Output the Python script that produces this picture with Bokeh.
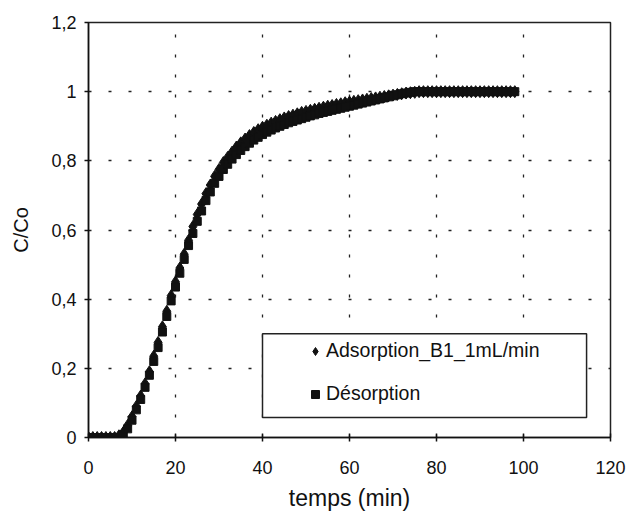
from bokeh.plotting import figure
from bokeh.models import (FixedTicker, Range1d, Legend, LegendItem, BoxAnnotation)
from bokeh.embed import file_html
from bokeh.resources import INLINE

# ---- data ----
temps = list(range(0, 99))

adsorption = [
    0, 0, 0, 0, 0, 0, 0, 0.005, 0.015, 0.035,
    0.06, 0.09, 0.12, 0.155, 0.19, 0.235, 0.275, 0.32, 0.365, 0.41,
    0.45, 0.49, 0.53, 0.57, 0.61, 0.645, 0.675, 0.705, 0.73, 0.755,
    0.775, 0.795, 0.81, 0.825, 0.84, 0.852, 0.863, 0.873, 0.882, 0.89,
    0.897, 0.903, 0.909, 0.914, 0.919, 0.924, 0.928, 0.932, 0.936, 0.94,
    0.943, 0.946, 0.949, 0.952, 0.955, 0.958, 0.96, 0.963, 0.965, 0.968,
    0.97, 0.972, 0.974, 0.976, 0.978, 0.98, 0.982, 0.984, 0.986, 0.988,
    0.99, 0.992, 0.994, 0.996, 0.997, 0.998, 1.0, 1.0, 1.0, 1.0,
    1.0, 1.0, 1.0, 1.0, 1.0, 1.0, 1.0, 1.0, 1.0, 1.0,
    1.0, 1.0, 1.0, 1.0, 1.0, 1.0, 1.0, 1.0, 1.0,
]

desorption = [
    0, 0, 0, 0, 0, 0, 0, 0, 0.005, 0.025,
    0.05, 0.08, 0.11, 0.145, 0.18, 0.22, 0.26, 0.305, 0.35, 0.395,
    0.435, 0.475, 0.515, 0.555, 0.59, 0.625, 0.655, 0.685, 0.71, 0.735,
    0.755, 0.775, 0.79, 0.805, 0.818, 0.83, 0.841, 0.851, 0.86, 0.868,
    0.876, 0.883, 0.889, 0.895, 0.9, 0.905, 0.91, 0.914, 0.918, 0.922,
    0.926, 0.93, 0.933, 0.937, 0.94, 0.943, 0.946, 0.949, 0.952, 0.955,
    0.958, 0.961, 0.964, 0.967, 0.97, 0.973, 0.976, 0.979, 0.982, 0.985,
    0.988, 0.991, 0.994, 0.996, 0.998, 1.0, 1.0, 1.0, 1.0, 1.0,
    1.0, 1.0, 1.0, 1.0, 1.0, 1.0, 1.0, 1.0, 1.0, 1.0,
    1.0, 1.0, 1.0, 1.0, 1.0, 1.0, 1.0, 1.0, 1.0,
]

x_ticks = [0, 20, 40, 60, 80, 100, 120]
y_ticks = [0, 0.2, 0.4, 0.6, 0.8, 1.0, 1.2]
y_tick_labels = ["0", "0,2", "0,4", "0,6", "0,8", "1", "1,2"]

series_names = ["Adsorption_B1_1mL/min", "Désorption"]

FONT = "Liberation Sans"

p = figure(width=629, height=518, output_backend="svg", toolbar_location=None,
           x_range=Range1d(0, 120), y_range=Range1d(0, 1.2),
           min_border_left=88, min_border_right=19, min_border_top=22, min_border_bottom=81)
p.background_fill_color = "white"
p.border_fill_color = "white"
p.outline_line_color = "#222222"
p.outline_line_width = 1.5

# grid
for g in (p.xgrid, p.ygrid):
    g.grid_line_color = "#222222"
    g.grid_line_dash = "3 17"
    g.grid_line_width = 1.3
p.xgrid.ticker = FixedTicker(ticks=x_ticks)
p.ygrid.ticker = FixedTicker(ticks=y_ticks)

# axes
p.xaxis.ticker = FixedTicker(ticks=x_ticks)
p.yaxis.ticker = FixedTicker(ticks=y_ticks)
p.yaxis.major_label_overrides = {t: l for t, l in zip(y_ticks, y_tick_labels)}
p.xaxis.major_label_overrides = {t: str(t) for t in x_ticks}
for ax in (p.xaxis, p.yaxis):
    ax.axis_line_color = "#111111"
    ax.axis_line_width = 1.5
    ax.major_tick_line_color = "#111111"
    ax.major_tick_line_width = 1.5
    ax.minor_tick_line_color = None
    ax.major_label_text_font = FONT
    ax.major_label_text_font_size = "18px"
    ax.major_label_text_color = "#111111"
    ax.axis_label_text_font = FONT
    ax.axis_label_text_font_style = "normal"
    ax.axis_label_text_color = "#111111"
p.xaxis.axis_label_text_font_size = "23px"
p.yaxis.axis_label_text_font_size = "20px"
p.xaxis.major_tick_in = 4
p.xaxis.major_tick_out = 4
p.yaxis.major_tick_in = 0
p.yaxis.major_tick_out = 4
p.xaxis.major_label_standoff = 19
p.yaxis.major_label_standoff = 8
p.xaxis.axis_label = "temps (min)"
p.yaxis.axis_label = "C/Co"
p.xaxis.axis_label_standoff = 8
p.yaxis.axis_label_standoff = 16

# data
r_ads = p.scatter(temps, adsorption, marker="diamond", size=12, color="#111111")
r_des = p.scatter(temps, desorption, marker="square", size=8, color="#111111")

# legend box (opaque white frame)
box = BoxAnnotation(left=40, right=114.5, bottom=0.058, top=0.30,
                    fill_color="white", fill_alpha=1.0,
                    line_color="#222222", line_alpha=1.0, line_width=1.5,
                    level="overlay")
p.add_layout(box)

legend = Legend(items=[LegendItem(label=series_names[0], renderers=[r_ads]),
                       LegendItem(label=series_names[1], renderers=[r_des])],
                location=(217, 32), orientation="vertical",
                border_line_color=None, background_fill_alpha=0.0,
                padding=0, spacing=20, glyph_width=20, glyph_height=20,
                label_height=20, label_standoff=1,
                label_text_font=FONT, label_text_font_size="19.5px",
                label_text_color="#111111", level="overlay")
p.add_layout(legend, "center")

open("out.html", "w").write(file_html(p, INLINE))
